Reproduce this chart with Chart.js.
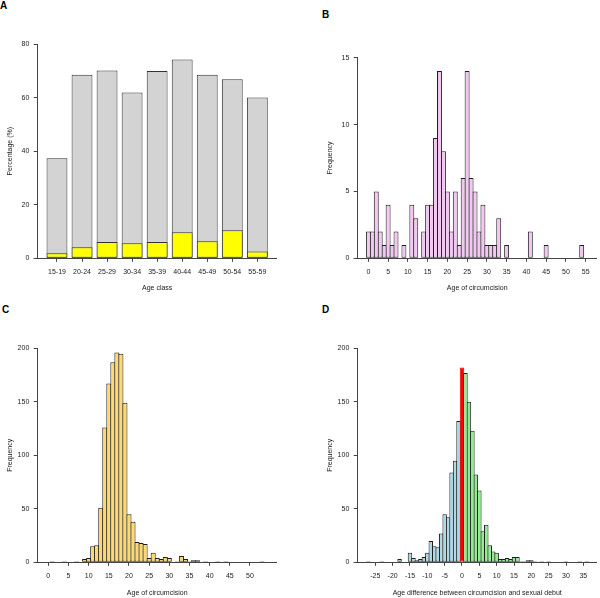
<!DOCTYPE html>
<html>
<head>
<meta charset="utf-8">
<title>Circumcision age</title>
<script src="https://cdn.jsdelivr.net/npm/chart.js@4.4.0/dist/chart.umd.min.js"></script>
<style>
	body {
		margin: 0;
		width: 600px;
		height: 598px;
		position: relative;
		overflow: hidden;
		background: #fff;
		font-family: "Liberation Sans", Arial, sans-serif;
	}
	canvas {
		position: absolute;
	}
	.letra {
		position: absolute;
		font-weight: bold;
		font-size: 10px;
		line-height: 11px;
		color: #000;
	}
</style>
</head>
<body>
<div class="letra" style="left:0;top:0">A</div>
<div class="letra" style="left:322px;top:9px">B</div>
<div class="letra" style="left:2px;top:304px">C</div>
<div class="letra" style="left:322px;top:304px">D</div>

<canvas id="chartA" width="300" height="295" style="left:0;top:0"></canvas>
<canvas id="chartB" width="300" height="295" style="left:300px;top:0"></canvas>
<canvas id="chartC" width="300" height="308" style="left:0;top:290px"></canvas>
<canvas id="chartD" width="300" height="308" style="left:300px;top:290px"></canvas>

<script>
// A - percentage by age class
const ageClasses = ["15-19", "20-24", "25-29", "30-34", "35-39", "40-44", "45-49", "50-54", "55-59"];
const pctAll = [37.4, 68.6, 70.2, 62.0, 70.0, 74.3, 68.6, 66.9, 60.1];
const pctSubset = [1.9, 4.1, 6.1, 5.6, 6.1, 9.7, 6.4, 10.5, 2.5];

// B - age of circumcision (small sample)
const agesB = [0, 1, 2, 3, 4, 5, 6, 7, 8, 9, 10, 11, 12, 13, 14, 15, 16, 17, 18, 19, 20, 21, 22, 23, 24, 25, 26, 27, 28, 29, 30, 31, 32, 33, 34, 35, 36, 37, 38, 39, 40, 41, 42, 43, 44, 45, 46, 47, 48, 49, 50, 51, 52, 53, 54, 55];
const countsB = [2, 2, 5, 2, 1, 4, 1, 2, 0, 1, 0, 4, 3, 0, 2, 4, 4, 9, 14, 8, 5, 2, 5, 1, 6, 14, 6, 5, 2, 4, 1, 1, 1, 3, 0, 1, 0, 0, 0, 0, 0, 2, 0, 0, 0, 1, 0, 0, 0, 0, 0, 0, 0, 0, 1, 0];
const xTicksB = [0, 5, 10, 15, 20, 25, 30, 35, 40, 45, 50, 55];

// C - age of circumcision (large sample)
const agesC = [0, 1, 2, 3, 4, 5, 6, 7, 8, 9, 10, 11, 12, 13, 14, 15, 16, 17, 18, 19, 20, 21, 22, 23, 24, 25, 26, 27, 28, 29, 30, 31, 32, 33, 34, 35, 36, 37, 38, 39, 40, 41, 42, 43, 44, 45, 46, 47, 48, 49, 50, 51, 52, 53];
const countsC = [0, 1, 0, 0, 1, 0, 0, 1, 0, 3, 4, 15, 16, 51, 126, 167, 187, 196, 195, 149, 45, 38, 19, 18, 17, 4, 9, 4, 3, 5, 4, 0, 1, 6, 3, 1, 2, 2, 0, 1, 0, 0, 1, 0, 1, 0, 0, 0, 0, 0, 0, 0, 0, 1];
const xTicksC = [0, 5, 10, 15, 20, 25, 30, 35, 40, 45, 50];

// D - age difference between circumcision and sexual debut
const diffD = [-27, -26, -25, -24, -23, -22, -21, -20, -19, -18, -17, -16, -15, -14, -13, -12, -11, -10, -9, -8, -7, -6, -5, -4, -3, -2, -1, 0, 1, 2, 3, 4, 5, 6, 7, 8, 9, 10, 11, 12, 13, 14, 15, 16, 17, 18, 19, 20, 21, 22, 23, 24, 25, 26, 27, 28, 29, 30, 31, 32, 33, 34, 35, 36];
const countsD = [1, 0, 0, 0, 1, 0, 0, 0, 0, 3, 0, 0, 9, 4, 2, 3, 5, 9, 20, 15, 14, 27, 45, 42, 84, 95, 132, 182, 177, 150, 123, 82, 67, 29, 35, 16, 10, 9, 3, 3, 4, 3, 5, 5, 1, 1, 2, 2, 1, 0, 1, 0, 1, 0, 0, 0, 0, 1, 0, 0, 0, 1, 0, 1];
const xTicksD = [-25, -20, -15, -10, -5, 0, 5, 10, 15, 20, 25, 30, 35];

const FONTE = "'Liberation Sans', Arial, Helvetica, sans-serif";
const COR_EIXO = "#444";
const COR_TEXTO = "#1a1a1a";
const COR_BORDA = "#1e1e1e";

function eixoX(min, max, ticks, titulo, alturaEixo, padTitulo, rotulos) {
	return {
		type: "linear",
		min: min,
		max: max,
		offset: false,
		stacked: true,
		border: { display: true, color: COR_EIXO, width: 1 },
		grid: { display: true, drawOnChartArea: false, drawTicks: true, tickLength: 3.5, tickColor: COR_EIXO, offset: false },
		ticks: {
			font: { family: FONTE, size: 7 },
			color: COR_TEXTO,
			padding: 5.7,
			maxRotation: 0,
			autoSkip: false,
			callback: (v, i) => (rotulos ? rotulos[i] : String(v)),
		},
		afterBuildTicks: (s) => {
			s.ticks = ticks.map((v) => ({ value: v }));
		},
		afterFit: (s) => {
			s.height = alturaEixo;
			s.paddingLeft = 0;
			s.paddingRight = 0;
		},
		title: {
			display: true,
			text: titulo,
			font: { family: FONTE, size: 7 },
			color: COR_TEXTO,
			padding: { top: 0, bottom: padTitulo },
		},
	};
}

function eixoY(max, passo, titulo, larguraEixo, padTitulo) {
	return {
		type: "linear",
		min: 0,
		max: max,
		border: { display: true, color: COR_EIXO, width: 1 },
		grid: { display: true, drawOnChartArea: false, drawTicks: true, tickLength: 4, tickColor: COR_EIXO },
		ticks: {
			stepSize: passo,
			font: { family: FONTE, size: 7 },
			color: COR_TEXTO,
			padding: 4.4,
		},
		afterFit: (s) => {
			s.width = larguraEixo;
			s.paddingTop = 0;
			s.paddingBottom = 0;
		},
		title: {
			display: true,
			text: titulo,
			font: { family: FONTE, size: 7 },
			color: COR_TEXTO,
			padding: { top: padTitulo, bottom: 0 },
		},
	};
}

function opcoes(padTopo, padDireita, x, y) {
	return {
		responsive: false,
		animation: false,
		layout: { padding: { left: 0, top: padTopo, right: padDireita, bottom: 0 } },
		plugins: { legend: { display: false }, tooltip: { enabled: false } },
		scales: { x: x, y: y },
	};
}

function pontos(xs, ys) {
	return xs.map((v, i) => ({ x: v, y: ys[i] }));
}

// estilo comum das barras
function barras(dados, fundo, borda, largura) {
	return {
		data: dados,
		backgroundColor: fundo,
		borderColor: borda,
		borderWidth: 1,
		borderSkipped: false,
		inflateAmount: 0,
		categoryPercentage: 1,
		barPercentage: largura,
	};
}

// A: barras sobrepostas (amarelo por cima do cinza), espaçamento do barplot do R
const posA = ageClasses.map((_, i) => 0.7 + 1.2 * i);

new Chart(document.getElementById("chartA"), {
	type: "bar",
	data: {
		datasets: [
			barras(pontos(posA, pctSubset), "#FFFF00", "#333", 1 / 1.2),
			barras(pontos(posA, pctAll), "#D3D3D3", "#333", 1 / 1.2),
		],
	},
	options: opcoes(
		44.3, 23.4,
		eixoX(-0.224, 11.224, posA, "Age class", 36.7, 2.8, ageClasses),
		eixoY(80, 20, "Percentage (%)", 37.7, 5.8),
	),
});

new Chart(document.getElementById("chartB"), {
	type: "bar",
	data: {
		datasets: [barras(pontos(agesB, countsB), "#F2C8F2", COR_BORDA, 1.25)],
	},
	options: opcoes(
		57.7, 3.3,
		eixoX(-2.7, 57.8, xTicksB, "Age of circumcision", 36.7, 2.8),
		eixoY(15, 5, "Frequency", 57.7, 25.8),
	),
});

new Chart(document.getElementById("chartC"), {
	type: "bar",
	data: {
		datasets: [barras(pontos(agesC, countsC), "#FFD970", COR_BORDA, 1.25)],
	},
	options: opcoes(
		58.3, 23.3,
		eixoX(-2.63, 56.62, xTicksC, "Age of circumcision", 35.7, 1.1),
		eixoY(200, 50, "Frequency", 37.7, 5.8),
	),
});

// D: azul antes da iniciação sexual, vermelho no zero, verde depois
const coresD = diffD.map((d) => (d < 0 ? "#ADD8E6" : d === 0 ? "#FF0000" : "#90EE90"));
const bordasD = diffD.map((d) => (d === 0 ? "#E00000" : COR_BORDA));

new Chart(document.getElementById("chartD"), {
	type: "bar",
	data: {
		datasets: [barras(pontos(diffD, countsD), coresD, bordasD, 1.29)],
	},
	options: opcoes(
		58.3, 3.3,
		eixoX(-30.08, 38.85, xTicksD, "Age difference between circumcision and sexual debut", 35.7, 0.5),
		eixoY(200, 50, "Frequency", 57.7, 25.8),
	),
});
</script>
</body>
</html>
